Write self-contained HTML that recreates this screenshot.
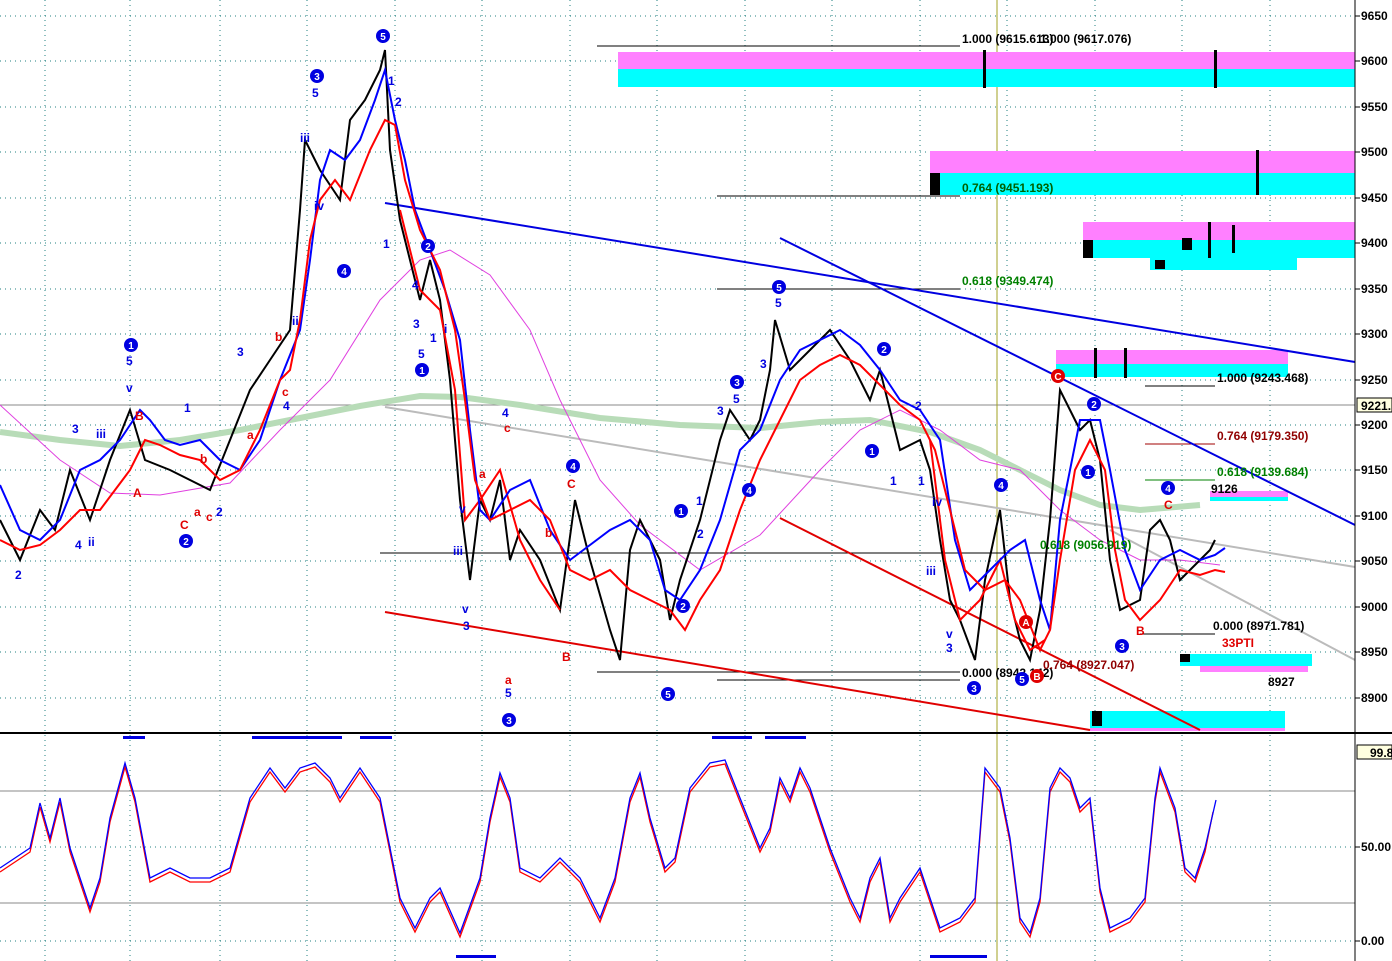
<!DOCTYPE html>
<html><head><meta charset="utf-8"><style>
html,body{margin:0;padding:0;background:#fff;}
svg{display:block;font-family:"Liberation Sans",sans-serif;}
.ax{font-size:12px;font-weight:bold;fill:#000}
.lb{font-size:12px;font-weight:bold}
</style></head><body>
<svg width="1392" height="961" viewBox="0 0 1392 961" xmlns="http://www.w3.org/2000/svg">
<rect width="1392" height="961" fill="#fff"/>
<g stroke="#208080" stroke-width="1" stroke-dasharray="1,4">
<line x1="0" y1="16" x2="1355" y2="16"/><line x1="0" y1="61" x2="1355" y2="61"/><line x1="0" y1="107" x2="1355" y2="107"/><line x1="0" y1="152" x2="1355" y2="152"/><line x1="0" y1="198" x2="1355" y2="198"/><line x1="0" y1="243" x2="1355" y2="243"/><line x1="0" y1="289" x2="1355" y2="289"/><line x1="0" y1="334" x2="1355" y2="334"/><line x1="0" y1="380" x2="1355" y2="380"/><line x1="0" y1="425" x2="1355" y2="425"/><line x1="0" y1="470" x2="1355" y2="470"/><line x1="0" y1="516" x2="1355" y2="516"/><line x1="0" y1="561" x2="1355" y2="561"/><line x1="0" y1="607" x2="1355" y2="607"/><line x1="0" y1="652" x2="1355" y2="652"/><line x1="0" y1="698" x2="1355" y2="698"/>
<line x1="0" y1="847" x2="1355" y2="847"/><line x1="0" y1="941" x2="1355" y2="941"/>
<line x1="45" y1="0" x2="45" y2="961"/><line x1="130" y1="0" x2="130" y2="961"/><line x1="220" y1="0" x2="220" y2="961"/><line x1="307" y1="0" x2="307" y2="961"/><line x1="395" y1="0" x2="395" y2="961"/><line x1="482" y1="0" x2="482" y2="961"/><line x1="570" y1="0" x2="570" y2="961"/><line x1="657" y1="0" x2="657" y2="961"/><line x1="745" y1="0" x2="745" y2="961"/><line x1="832" y1="0" x2="832" y2="961"/><line x1="920" y1="0" x2="920" y2="961"/><line x1="1007" y1="0" x2="1007" y2="961"/><line x1="1095" y1="0" x2="1095" y2="961"/><line x1="1182" y1="0" x2="1182" y2="961"/><line x1="1270" y1="0" x2="1270" y2="961"/>
</g>
<line x1="0" y1="405" x2="1355" y2="405" stroke="#888" stroke-width="1"/>
<line x1="0" y1="791" x2="1355" y2="791" stroke="#888" stroke-width="1"/>
<line x1="0" y1="903" x2="1355" y2="903" stroke="#888" stroke-width="1"/>
<line x1="997" y1="0" x2="997" y2="961" stroke="#a0a020" stroke-width="1"/>
<rect x="618" y="52" width="737" height="17" fill="#ff80ff"/><rect x="618" y="69" width="737" height="18" fill="#00ffff"/>
<rect x="930" y="151" width="425" height="22" fill="#ff80ff"/><rect x="930" y="173" width="425" height="22" fill="#00ffff"/>
<rect x="1083" y="222" width="272" height="18" fill="#ff80ff"/><rect x="1083" y="240" width="272" height="18" fill="#00ffff"/><rect x="1150" y="258" width="147" height="12" fill="#00ffff"/>
<rect x="1056" y="350" width="232" height="14" fill="#ff80ff"/><rect x="1056" y="364" width="232" height="13" fill="#00ffff"/>
<rect x="1210" y="491" width="78" height="6" fill="#ff80ff"/><rect x="1210" y="497" width="78" height="4" fill="#00ffff"/>
<rect x="1180" y="654" width="132" height="12" fill="#00ffff"/><rect x="1200" y="666" width="108" height="6" fill="#ff80ff"/>
<rect x="1090" y="711" width="195" height="17" fill="#00ffff"/><rect x="1090" y="728" width="195" height="3" fill="#ff80ff"/>
<g fill="#000"><rect x="930" y="173" width="10" height="22"/><rect x="1083" y="240" width="10" height="18"/><rect x="1182" y="238" width="10" height="12"/><rect x="1155" y="260" width="10" height="9"/><rect x="1092" y="711" width="10" height="15"/><rect x="1180" y="654" width="10" height="8"/>
<rect x="983" y="50" width="3" height="38"/><rect x="1214" y="50" width="3" height="38"/><rect x="1256" y="150" width="3" height="45"/><rect x="1208" y="222" width="3" height="36"/><rect x="1232" y="225" width="3" height="28"/><rect x="1094" y="348" width="3" height="30"/><rect x="1124" y="348" width="3" height="30"/></g>
<g stroke="#000" stroke-width="1">
<line x1="597" y1="46" x2="960" y2="46"/><line x1="717" y1="196" x2="960" y2="196"/><line x1="717" y1="289" x2="960" y2="289"/>
<line x1="1145" y1="386" x2="1215" y2="386"/><line x1="1140" y1="634" x2="1215" y2="634"/><line x1="597" y1="672" x2="960" y2="672"/><line x1="717" y1="680" x2="960" y2="680"/>
</g>
<line x1="1145" y1="444" x2="1215" y2="444" stroke="#a00000"/><line x1="1145" y1="480" x2="1215" y2="480" stroke="#008000"/>
<line x1="380" y1="553" x2="1060" y2="553" stroke="#000" stroke-width="1"/>
<line x1="385" y1="203" x2="1355" y2="362" stroke="#0000e0" stroke-width="2"/>
<line x1="780" y1="238" x2="1355" y2="525" stroke="#0000e0" stroke-width="2"/>
<line x1="385" y1="407" x2="1355" y2="567" stroke="#bbb" stroke-width="2"/>
<line x1="1110" y1="530" x2="1355" y2="660" stroke="#bbb" stroke-width="2"/>
<line x1="385" y1="612" x2="1090" y2="730" stroke="#e00000" stroke-width="2"/>
<line x1="780" y1="518" x2="1200" y2="730" stroke="#e00000" stroke-width="2"/>
<polyline fill="none" stroke="#b8dcb8" stroke-width="6" points="0,432 60,440 120,446 180,440 240,430 300,418 360,406 420,396 460,397 520,405 600,418 680,425 760,428 820,422 870,420 930,432 980,450 1020,470 1060,490 1100,505 1140,510 1200,505"/>
<polyline fill="none" stroke="#e040e0" stroke-width="1" points="0,405 60,460 110,493 160,495 230,483 280,430 330,380 380,300 420,260 450,250 490,275 530,330 560,400 600,480 640,525 700,570 760,535 820,470 860,430 900,410 940,430 980,460 1020,470 1060,510 1100,540 1140,560 1180,560 1220,565"/>
<polyline fill="none" stroke="#000" stroke-width="2" points="0,520 20,560 40,510 55,530 70,470 90,520 110,460 130,410 145,460 170,470 190,480 210,490 230,440 250,390 270,360 290,330 300,210 305,140 320,170 340,200 350,120 365,100 380,70 385,50 390,150 400,220 410,260 420,300 430,260 440,300 450,380 460,500 470,580 480,500 490,520 500,480 510,560 520,530 540,560 560,610 575,500 590,560 610,630 620,660 630,550 640,520 660,560 670,620 680,580 700,520 720,440 730,410 750,440 760,420 770,370 775,320 790,370 810,350 820,340 830,330 850,360 870,400 880,370 890,410 900,450 920,440 930,470 940,540 950,600 960,620 975,660 985,580 1000,510 1010,600 1020,640 1030,660 1040,610 1050,520 1060,390 1070,410 1080,430 1090,420 1100,460 1110,560 1120,610 1140,600 1150,530 1160,520 1170,540 1180,580 1190,570 1200,560 1210,550 1215,540"/>
<polyline fill="none" stroke="#ff0000" stroke-width="2" points="400,210 420,290 440,310 455,390 465,520 480,500 500,470 520,540 540,580 560,610"/>
<polyline fill="none" stroke="#ff0000" stroke-width="2" points="930,440 945,560 960,620 980,600 1000,560 1015,620 1030,650 1045,640"/>
<polyline fill="none" stroke="#0000ff" stroke-width="2" points="0,485 20,530 40,540 60,520 80,470 100,460 120,440 140,410 150,420 165,440 180,445 200,440 220,460 240,470 260,440 280,380 300,330 310,260 320,180 330,150 345,160 360,140 375,100 385,70 395,120 405,160 415,210 430,250 445,290 460,340 470,430 480,510 490,520 510,490 530,480 550,530 570,560 590,545 610,530 630,520 650,540 665,590 680,600 700,570 720,520 740,450 760,430 780,380 800,350 820,340 840,330 860,345 880,370 900,400 920,410 940,440 955,540 970,590 990,570 1010,550 1025,540 1040,600 1050,630 1060,520 1080,420 1100,420 1110,470 1125,550 1140,590 1160,560 1180,550 1200,560 1215,555 1225,548"/>
<polyline fill="none" stroke="#ff0000" stroke-width="2" points="0,540 20,550 40,545 60,530 80,510 100,510 115,490 130,470 145,440 160,445 180,455 200,460 220,480 240,470 260,430 280,380 290,370 300,320 310,240 320,200 335,180 350,200 370,150 385,120 395,125 405,180 420,230 440,270 455,330 465,400 475,480 490,520 510,510 530,500 550,520 570,570 590,580 610,570 630,590 650,600 670,610 685,630 700,600 720,570 740,510 760,460 780,420 800,380 820,365 840,355 860,365 880,385 900,405 920,420 935,450 950,510 965,570 985,590 1005,580 1020,600 1040,650 1050,630 1060,560 1075,470 1090,440 1105,470 1115,550 1125,600 1140,620 1160,600 1180,570 1200,575 1215,570 1225,572"/>
<g class="lb">
<text x="962" y="43" fill="#000">1.000 (9615.613)</text><text x="1040" y="43" fill="#000">1.000 (9617.076)</text>
<text x="962" y="192" fill="#006000">0.764 (9451.193)</text>
<text x="962" y="285" fill="#008000">0.618 (9349.474)</text>
<text x="1217" y="382" fill="#000">1.000 (9243.468)</text>
<text x="1217" y="440" fill="#900000">0.764 (9179.350)</text>
<text x="1217" y="476" fill="#008000">0.618 (9139.684)</text>
<text x="1040" y="549" fill="#008000">0.618 (9056.919)</text>
<text x="1213" y="630" fill="#000">0.000 (8971.781)</text>
<text x="962" y="677" fill="#000">0.000 (8942.142)</text>
<text x="1043" y="669" fill="#900000">0.764 (8927.047)</text>
<text x="1211" y="493" fill="#000">9126</text>
<text x="1268" y="686" fill="#000">8927</text>
<text x="1222" y="647" fill="#e00000">33PTI</text>
</g>
<g fill="#0000e0"><circle cx="383" cy="36" r="7"/><circle cx="317" cy="76" r="7"/><circle cx="131" cy="345" r="7"/><circle cx="186" cy="541" r="7"/><circle cx="428" cy="246" r="7"/><circle cx="344" cy="271" r="7"/><circle cx="422" cy="370" r="7"/><circle cx="509" cy="720" r="7"/><circle cx="573" cy="466" r="7"/><circle cx="681" cy="511" r="7"/><circle cx="683" cy="606" r="7"/><circle cx="668" cy="694" r="7"/><circle cx="737" cy="382" r="7"/><circle cx="749" cy="490" r="7"/><circle cx="779" cy="287" r="7"/><circle cx="884" cy="349" r="7"/><circle cx="872" cy="451" r="7"/><circle cx="1001" cy="485" r="7"/><circle cx="974" cy="688" r="7"/><circle cx="1022" cy="679" r="7"/><circle cx="1094" cy="404" r="7"/><circle cx="1088" cy="472" r="7"/><circle cx="1168" cy="488" r="7"/><circle cx="1122" cy="646" r="7"/></g>
<g fill="#e00000"><circle cx="1058" cy="376" r="7"/><circle cx="1026" cy="622" r="7"/><circle cx="1037" cy="676" r="7"/></g>
<g font-size="10" font-weight="bold" fill="#fff" text-anchor="middle">
<text x="383" y="40">5</text><text x="317" y="80">3</text><text x="131" y="349">1</text><text x="186" y="545">2</text><text x="428" y="250">2</text><text x="344" y="275">4</text><text x="422" y="374">1</text><text x="509" y="724">3</text><text x="573" y="470">4</text><text x="681" y="515">1</text><text x="683" y="610">2</text><text x="668" y="698">5</text><text x="737" y="386">3</text><text x="749" y="494">4</text><text x="779" y="291">5</text><text x="884" y="353">2</text><text x="872" y="455">1</text><text x="1001" y="489">4</text><text x="974" y="692">3</text><text x="1022" y="683">5</text><text x="1094" y="408">2</text><text x="1088" y="476">1</text><text x="1168" y="492">4</text><text x="1122" y="650">3</text><text x="1058" y="380">C</text><text x="1026" y="626">A</text><text x="1037" y="680">B</text>
</g>
<g font-size="12" font-weight="bold" fill="#0000e0">
<text x="312" y="97">5</text><text x="300" y="142">iii</text><text x="126" y="365">5</text><text x="126" y="392">v</text><text x="72" y="433">3</text><text x="96" y="438">iii</text><text x="15" y="579">2</text><text x="75" y="549">4</text><text x="88" y="546">ii</text><text x="184" y="412">1</text><text x="216" y="516">2</text><text x="237" y="356">3</text><text x="283" y="410">4</text><text x="292" y="325">ii</text><text x="412" y="289">4</text><text x="413" y="328">3</text><text x="418" y="358">5</text><text x="430" y="342">1</text><text x="444" y="333">i</text><text x="459" y="513">v</text><text x="453" y="555">iii</text><text x="462" y="613">v</text><text x="463" y="630">3</text><text x="502" y="417">4</text><text x="505" y="697">5</text><text x="717" y="415">3</text><text x="733" y="403">5</text><text x="760" y="368">3</text><text x="775" y="307">5</text><text x="696" y="505">1</text><text x="697" y="538">2</text><text x="915" y="410">2</text><text x="890" y="485">1</text><text x="918" y="485">1</text><text x="932" y="506">iv</text><text x="926" y="575">iii</text><text x="946" y="638">v</text><text x="946" y="652">3</text><text x="383" y="248">1</text><text x="388" y="85">1</text><text x="395" y="106">2</text><text x="314" y="210">iv</text>
</g>
<g font-size="12" font-weight="bold" fill="#e00000">
<text x="135" y="420">B</text><text x="133" y="497">A</text><text x="180" y="529">C</text><text x="194" y="516">a</text><text x="206" y="521">c</text><text x="200" y="463">b</text><text x="247" y="439">a</text><text x="275" y="341">b</text><text x="282" y="396">c</text><text x="504" y="432">c</text><text x="479" y="478">a</text><text x="545" y="537">b</text><text x="567" y="488">C</text><text x="562" y="661">B</text><text x="505" y="684">a</text><text x="1136" y="635">B</text><text x="1164" y="509">C</text>
</g>
<line x1="0" y1="733" x2="1355" y2="733" stroke="#000" stroke-width="2"/>
<polyline fill="none" stroke="#ff0000" stroke-width="1.3" points="0,872 15,862 30,852 40,807 50,842 60,802 70,852 90,912 100,882 110,822 125,767 135,802 150,882 170,872 190,882 210,882 230,872 250,802 270,772 285,792 300,772 315,767 330,782 340,802 360,772 380,802 400,902 415,932 430,902 440,892 460,937 480,882 490,822 500,777 510,802 520,872 540,882 560,862 580,882 600,922 615,882 630,802 640,777 650,822 665,872 675,862 690,792 710,767 725,764 740,802 760,852 770,832 780,782 790,802 800,772 810,792 830,852 850,902 860,922 870,882 880,862 890,922 900,902 920,872 940,932 960,922 975,902 985,772 1000,792 1010,842 1020,922 1030,937 1040,902 1050,792 1060,772 1070,782 1080,812 1090,802 1100,892 1110,932 1130,922 1145,902 1155,802 1160,772 1175,812 1185,872 1195,882 1205,852 1213,812"/>
<polyline fill="none" stroke="#0000ff" stroke-width="1.3" points="0,868 15,858 30,848 40,803 50,838 60,798 70,848 90,908 100,878 110,818 125,763 135,798 150,878 170,868 190,878 210,878 230,868 250,798 270,768 285,788 300,768 315,763 330,778 340,798 360,768 380,798 400,898 415,928 430,898 440,888 460,933 480,878 490,818 500,773 510,798 520,868 540,878 560,858 580,878 600,918 615,878 630,798 640,773 650,818 665,868 675,858 690,788 710,763 725,760 740,798 760,848 770,828 780,778 790,798 800,768 810,788 830,848 850,898 860,918 870,878 880,858 890,918 900,898 920,868 940,928 960,918 975,898 985,768 1000,788 1010,838 1020,918 1030,933 1040,898 1050,788 1060,768 1070,778 1080,808 1090,798 1100,888 1110,928 1130,918 1145,898 1155,798 1160,768 1175,808 1185,868 1195,878 1205,848 1216,800"/>
<g fill="#0000e0"><rect x="123" y="736" width="22" height="3"/><rect x="252" y="736" width="90" height="3"/><rect x="360" y="736" width="32" height="3"/><rect x="712" y="736" width="40" height="3"/><rect x="765" y="736" width="41" height="3"/><rect x="456" y="955" width="40" height="3"/><rect x="930" y="955" width="57" height="3"/></g>
<rect x="1355" y="0" width="37" height="961" fill="#fff"/>
<line x1="1355" y1="0" x2="1355" y2="961" stroke="#000" stroke-width="1"/>
<g stroke="#000">
<line x1="1355" y1="16" x2="1360" y2="16"/><line x1="1355" y1="61" x2="1360" y2="61"/><line x1="1355" y1="107" x2="1360" y2="107"/><line x1="1355" y1="152" x2="1360" y2="152"/><line x1="1355" y1="198" x2="1360" y2="198"/><line x1="1355" y1="243" x2="1360" y2="243"/><line x1="1355" y1="289" x2="1360" y2="289"/><line x1="1355" y1="334" x2="1360" y2="334"/><line x1="1355" y1="380" x2="1360" y2="380"/><line x1="1355" y1="425" x2="1360" y2="425"/><line x1="1355" y1="470" x2="1360" y2="470"/><line x1="1355" y1="516" x2="1360" y2="516"/><line x1="1355" y1="561" x2="1360" y2="561"/><line x1="1355" y1="607" x2="1360" y2="607"/><line x1="1355" y1="652" x2="1360" y2="652"/><line x1="1355" y1="698" x2="1360" y2="698"/><line x1="1355" y1="847" x2="1360" y2="847"/><line x1="1355" y1="941" x2="1360" y2="941"/>
</g>
<line x1="1355" y1="733" x2="1392" y2="733" stroke="#000" stroke-width="2"/>
<g class="ax">
<text x="1361" y="20">9650</text><text x="1361" y="65">9600</text><text x="1361" y="111">9550</text><text x="1361" y="156">9500</text><text x="1361" y="202">9450</text><text x="1361" y="247">9400</text><text x="1361" y="293">9350</text><text x="1361" y="338">9300</text><text x="1361" y="384">9250</text><text x="1361" y="429">9200</text><text x="1361" y="474">9150</text><text x="1361" y="520">9100</text><text x="1361" y="565">9050</text><text x="1361" y="611">9000</text><text x="1361" y="656">8950</text><text x="1361" y="702">8900</text>
<text x="1361" y="851">50.00</text><text x="1361" y="945">0.00</text>
</g>
<rect x="1357" y="398" width="35" height="14" fill="#ffffe0" stroke="#000"/><text x="1361" y="410" class="ax">9221.</text>
<rect x="1357" y="745" width="35" height="14" fill="#ffffe0" stroke="#000"/><text x="1370" y="757" class="ax">99.8</text>
</svg>
</body></html>
